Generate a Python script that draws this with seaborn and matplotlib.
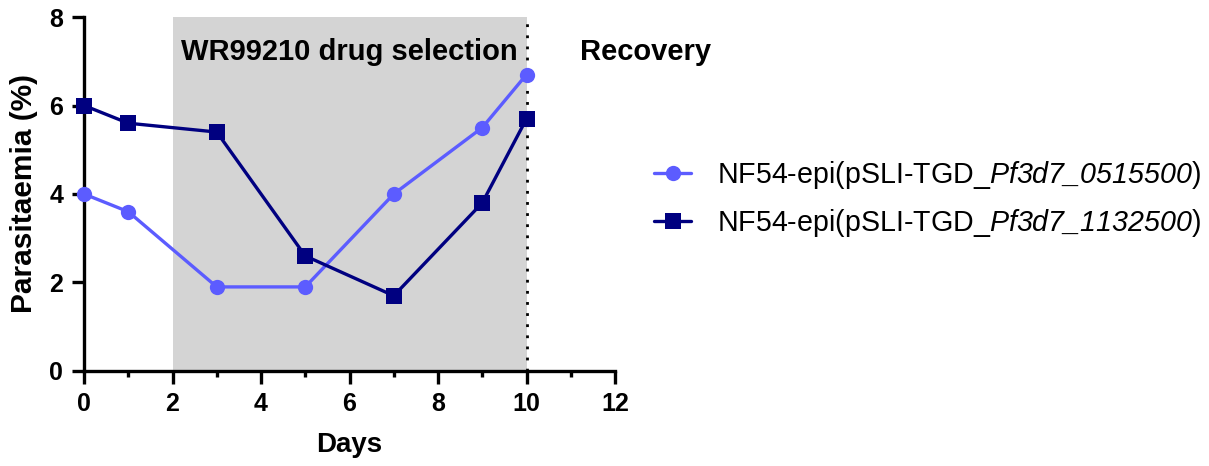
import matplotlib
matplotlib.use("Agg")
import matplotlib.pyplot as plt
import seaborn as sns
import pandas as pd
from matplotlib.ticker import MultipleLocator

# data
days = [0, 1, 3, 5, 7, 9, 10]
pf_0515500 = [4.0, 3.6, 1.9, 1.9, 4.0, 5.5, 6.7]
pf_1132500 = [6.0, 5.6, 5.4, 2.6, 1.7, 3.8, 5.7]
strains = ["0515500", "1132500"]
legend_labels = [
    r"NF54-epi(pSLI-TGD_$Pf3d7\_0515500$)",
    r"NF54-epi(pSLI-TGD_$Pf3d7\_1132500$)",
]
selection_window = (2, 10)

df = pd.DataFrame({
    "Days": days * 2,
    "Parasitaemia": pf_0515500 + pf_1132500,
    "strain": [strains[0]] * len(days) + [strains[1]] * len(days),
})

sns.set_style("ticks")
plt.rcParams["font.family"] = ["Liberation Sans", "DejaVu Sans"]
# italic gene names: make every math glyph italic Liberation Sans
plt.rcParams["mathtext.fontset"] = "custom"
plt.rcParams["mathtext.rm"] = "Liberation Sans:italic"
plt.rcParams["mathtext.it"] = "Liberation Sans:italic"
for key in ["text.color", "axes.labelcolor", "xtick.color", "ytick.color", "axes.edgecolor"]:
    plt.rcParams[key] = "black"

fig, ax = plt.subplots(figsize=(12.09, 4.66), dpi=100)
fig.subplots_adjust(left=0.0695, right=0.5087, bottom=0.2039, top=0.9635)

ax.axvspan(*selection_window, color="#d4d4d4", lw=0, zorder=0)
ax.axvline(selection_window[1], color="black", ls=(0, (1, 3)), lw=2, zorder=1)

palette = {strains[0]: "#5c5cff", strains[1]: "#000080"}
sns.lineplot(data=df, x="Days", y="Parasitaemia", hue="strain", style="strain",
             markers={strains[0]: "o", strains[1]: "s"}, dashes=False,
             palette=palette, lw=2.4, markersize=11, markeredgewidth=0,
             ax=ax, zorder=3, clip_on=False)

ax.set_xlim(0, 12)
ax.set_ylim(0, 8)
ax.xaxis.set_major_locator(MultipleLocator(2))
ax.xaxis.set_minor_locator(MultipleLocator(1))
ax.yaxis.set_major_locator(MultipleLocator(2))
ax.tick_params(which="major", length=9, width=2.4, labelsize=18, pad=6)
ax.tick_params(which="minor", length=4.5, width=2.4)
for lab in ax.get_xticklabels() + ax.get_yticklabels():
    lab.set_fontweight("bold")
sns.despine(ax=ax)
for s in ["left", "bottom"]:
    ax.spines[s].set_linewidth(2.4)

ax.set_xlabel("Days", fontsize=20, fontweight="bold", labelpad=12)
ax.set_ylabel("Parasitaemia (%)", fontsize=21.5, fontweight="bold", labelpad=8)

ax.text(6, 7.2, "WR99210 drug selection", ha="center", va="center",
        fontsize=21, fontweight="bold")
ax.text(12.7, 7.2, "Recovery", ha="center", va="center",
        fontsize=21, fontweight="bold")

handles, _ = ax.get_legend_handles_labels()
ax.legend(handles, legend_labels, loc="center left", bbox_to_anchor=(1.025, 0.485),
          frameon=False, fontsize=20.6, handlelength=1.3, handletextpad=0.9,
          labelspacing=0.55)

fig.savefig("out.png", dpi=100)
